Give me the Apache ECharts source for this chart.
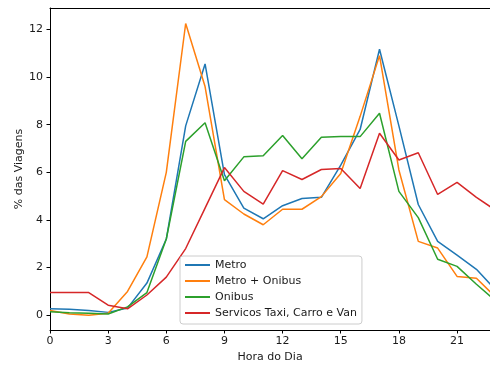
<!DOCTYPE html>
<html>
<head>
<meta charset="utf-8">
<script src="https://cdn.jsdelivr.net/npm/echarts@6/dist/echarts.min.js"></script>
<style>
  html, body { margin: 0; padding: 0; background: #fff; }
  #chart { width: 490px; height: 367px; }
</style>
</head>
<body>
<div id="chart"></div>
<script>
// hora do dia
const horas = [0,1,2,3,4,5,6,7,8,9,10,11,12,13,14,15,16,17,18,19,20,21,22,23]
const yTicks = [0,2,4,6,8,10,12]

const metro = [0.27,0.25,0.2,0.12,0.3,1.35,3.2,7.95,10.55,5.9,4.5,4.05,4.6,4.9,4.95,6.3,7.8,11.17,7.95,4.65,3.1,2.52,1.93,1.05]
const metroOnibus = [0.2,0.05,0.0,0.08,1.0,2.45,6.0,12.25,9.6,4.85,4.25,3.8,4.45,4.45,4.98,5.95,8.35,10.9,6.1,3.1,2.82,1.63,1.55,0.75]
const onibus = [0.15,0.1,0.08,0.05,0.35,0.95,3.2,7.3,8.08,5.65,6.65,6.7,7.55,6.57,7.47,7.5,7.5,8.48,5.2,4.1,2.35,2.05,1.3,0.6]
const taxiCarroVan = [0.95,0.95,0.95,0.42,0.27,0.85,1.6,2.8,4.5,6.2,5.2,4.67,6.07,5.7,6.12,6.16,5.32,7.64,6.52,6.82,5.07,5.58,4.95,4.4]

const nomes = ['Metro','Metro + Onibus','Onibus','Servicos Taxi, Carro e Van']
const cores = ['#1f77b4','#ff7f0e','#2ca02c','#d62728']
const valores = [metro, metroOnibus, onibus, taxiCarroVan]

const fonte = 'DejaVu Sans'
const corTexto = '#1a1a1a'

let chart = echarts.init(document.getElementById('chart'))

let series = nomes.map((nome, i) => ({
    name: nome,
    type: 'line',
    xAxisIndex: 0,
    symbol: 'none',
    data: horas.map((h, j) => [h, valores[i][j]]),
    lineStyle: { width: 1.5, color: cores[i] },
    itemStyle: { color: cores[i] }
}))

chart.setOption({
    animation: false,
    textStyle: { fontFamily: fonte },
    grid: { left: 50, right: 0, top: 8, bottom: 37, outerBoundsMode: 'none' },
    legend: {
        orient: 'vertical',
        left: 180,
        top: 256,
        padding: [2, 5, 4, 5],
        icon: 'rect',
        itemWidth: 25,
        itemHeight: 2,
        itemGap: 2,
        backgroundColor: '#fff',
        borderColor: '#cccccc',
        borderWidth: 1,
        borderRadius: 3,
        textStyle: { fontFamily: fonte, fontSize: 11, color: corTexto, lineHeight: 14 },
        data: nomes
    },
    xAxis: [{
        type: 'value',
        min: 0,
        max: 22.7,
        interval: 3,
        name: 'Hora do Dia',
        nameLocation: 'middle',
        nameGap: 22,
        nameMoveOverlap: false,
        nameTextStyle: { fontFamily: fonte, fontSize: 11, color: corTexto },
        axisLine: { onZero: false, lineStyle: { color: '#000', width: 1 } },
        axisTick: { length: 3.5, lineStyle: { color: '#000' } },
        axisLabel: { fontFamily: fonte, fontSize: 11, color: corTexto, margin: 6, showMaxLabel: false },
        splitLine: { show: false }
    }, {
        type: 'value',
        position: 'top',
        min: 0,
        max: 22.7,
        axisLine: { show: true, onZero: false, lineStyle: { color: '#000', width: 1 } },
        axisTick: { show: false },
        axisLabel: { show: false },
        splitLine: { show: false }
    }],
    yAxis: {
        type: 'value',
        min: -0.62,
        max: 12.9,
        name: '% das Viagens',
        nameLocation: 'middle',
        nameGap: 25,
        nameMoveOverlap: false,
        nameTextStyle: { fontFamily: fonte, fontSize: 11, color: corTexto },
        axisLine: { show: true, onZero: false, lineStyle: { color: '#000', width: 1 } },
        axisTick: { show: true, length: 3.5, lineStyle: { color: '#000' }, customValues: yTicks },
        axisLabel: { fontFamily: fonte, fontSize: 11, color: corTexto, margin: 7, customValues: yTicks },
        splitLine: { show: false }
    },
    series: series
})
</script>
</body>
</html>
